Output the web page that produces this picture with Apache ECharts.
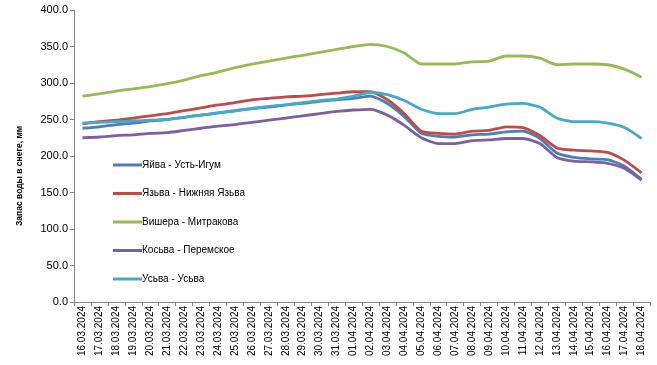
<!DOCTYPE html>
<html><head><meta charset="utf-8">
<script src="https://cdn.jsdelivr.net/npm/echarts@6/dist/echarts.min.js"></script>
<style>html,body{margin:0;padding:0;background:#fff}#c{width:657px;height:365px}</style>
</head><body><div id="c"></div>
<script>
const dates = ["16.03.2024","17.03.2024","18.03.2024","19.03.2024","20.03.2024","21.03.2024","22.03.2024","23.03.2024","24.03.2024","25.03.2024","26.03.2024","27.03.2024","28.03.2024","29.03.2024","30.03.2024","31.03.2024","01.04.2024","02.04.2024","03.04.2024","04.04.2024","05.04.2024","06.04.2024","07.04.2024","08.04.2024","09.04.2024","10.04.2024","11.04.2024","12.04.2024","13.04.2024","14.04.2024","15.04.2024","16.04.2024","17.04.2024","18.04.2024"];
const yaivaUstIgum = [238,240,243,245,248,250,253,256,259,262,265,267,270,272,275,277,279,282,272,254,231,227,226,229,230,233,234,224,204,198,196,195,186,168];
const yazvaNizhnyaya = [244,247,249,252,255,258,262,266,270,273,277,279,281,282,284,286,288,288,277,258,234,231,230,234,235,240,239,228,211,208,207,205,194,177];
const visheraMitrakova = [282,285,289,292,295,299,304,310,315,321,326,330,334,338,342,346,350,353,350,341,326,326,326,329,330,337,337,334,325,326,326,325,319,308];
const kosvaPeremskoe = [225,226,228,229,231,232,235,238,241,243,246,249,252,255,258,261,263,264,256,242,225,217,217,221,222,224,224,217,198,193,192,190,183,167];
const usvaUsva = [245,246,247,248,249,250,253,256,259,262,265,268,270,273,276,278,282,287,284,276,264,258,258,264,267,271,272,267,252,247,247,245,239,224];
const seriesNames = ["Яйва - Усть-Игум","Язьва - Нижняя Язьва","Вишера - Митракова","Косьва - Перемское","Усьва - Усьва"];
const colors = ["#4a7ebb","#be4b48","#98b954","#7d60a0","#46aac5"];
const yTicks = {min:0, max:400, interval:50};
const yName = "Запас воды в снеге, мм";

const data = [yaivaUstIgum, yazvaNizhnyaya, visheraMitrakova, kosvaPeremskoe, usvaUsva];
const chart = echarts.init(document.getElementById('c'), null, {renderer:'canvas'});
chart.setOption({
  animation:false,
  color: colors,
  textStyle:{fontFamily:'Liberation Sans'},
  grid:{left:74, right:7, top:10, bottom:63, containLabel:false},
  legend:{
    orient:'vertical', left:108, top:155, itemGap:18.5, itemWidth:29, itemHeight:3,
    icon:'rect',
    textStyle:{fontSize:10, color:'#000', fontFamily:'Liberation Sans', padding:[0,0,0,-5]},
    data: seriesNames
  },
  graphic:[{
    type:'text', x:20, y:176, rotation:Math.PI/2,
    style:{text:yName, fontSize:8.5, fontWeight:'bold', fill:'#000', fontFamily:'Liberation Sans', align:'center', verticalAlign:'middle'}
  }],
  xAxis:{
    type:'category', data:dates, boundaryGap:true,
    axisLine:{lineStyle:{color:'#868686', width:1}},
    axisTick:{show:true, alignWithLabel:false, length:4, lineStyle:{color:'#868686'}},
    axisLabel:{rotate:90, fontSize:10, color:'#000', interval:0, margin:4}
  },
  yAxis:{
    type:'value', min:yTicks.min, max:yTicks.max, interval:yTicks.interval,
    axisLine:{show:true, lineStyle:{color:'#868686'}},
    axisTick:{show:true, length:4, lineStyle:{color:'#868686'}},
    splitLine:{show:false},
    axisLabel:{fontSize:11, color:'#000', margin:6, formatter:v=>v.toFixed(1)}
  },
  series: data.map((d,i)=>({
    name:seriesNames[i], type:'line', data:d, symbol:'none', smooth:0.2,
    lineStyle:{width:2.8, color:colors[i]}
  }))
});
</script></body></html>
